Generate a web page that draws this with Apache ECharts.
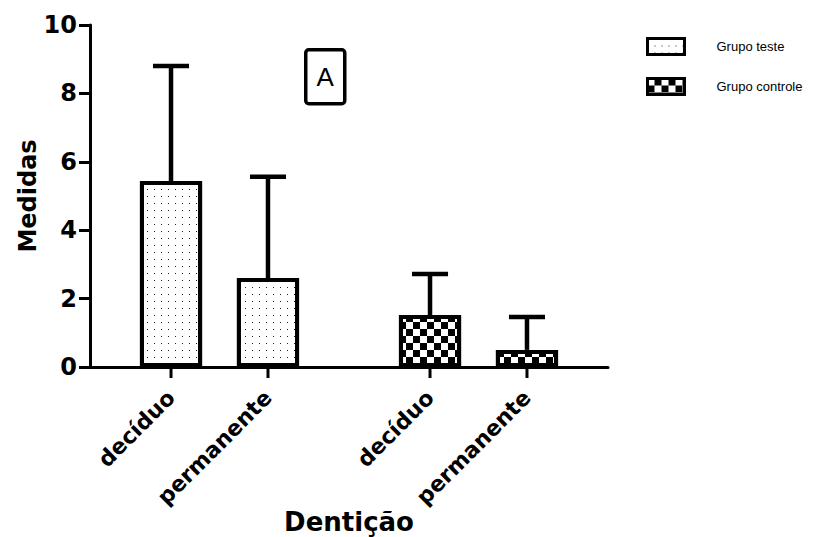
<!DOCTYPE html>
<html><head><meta charset="utf-8">
<script src="https://cdn.jsdelivr.net/npm/echarts@6/dist/echarts.min.js"></script>
<style>html,body{margin:0;padding:0;background:#fff}#c{width:825px;height:537px}</style>
</head><body><div id="c"></div>
<script>
// ---- data ----
const groups = ['Grupo teste', 'Grupo controle'];
const dentitions = ['decíduo', 'permanente'];
const meanTeste = [5.44, 2.60];      // decíduo, permanente
const meanControle = [1.52, 0.50];
const upperTeste = [8.80, 5.56];     // mean + SD
const upperControle = [2.72, 1.46];
const yTicks = [0, 2, 4, 6, 8, 10];
const xTitle = 'Dentição';
const yTitle = 'Medidas';
const panelTag = 'A';

// ---- styling ----
const BAR_W = 0.24, BAR_GAP = 0.56;
const boldFont = 'DejaVu Sans';
const dotDecal = { symbol: 'rect', symbolSize: 1, color: '#222', dashArrayX: [1, 6], dashArrayY: [1, 6], rotation: 0 };
const checkerDecal = { symbol: 'rect', symbolSize: 1, color: '#000', dashArrayX: [[7, 7], [0, 7, 7, 0]], dashArrayY: [7, 0], rotation: 0 };
const decals = [dotDecal, checkerDecal];
const means = [meanTeste, meanControle];
const uppers = [upperTeste, upperControle];

const series = [];
groups.forEach((g, gi) => {
  dentitions.forEach((d, di) => {
    series.push({
      type: 'bar',
      name: g,
      stack: d,
      barWidth: (BAR_W * 100) + '%',
      barGap: (BAR_GAP * 100) + '%',
      data: groups.map((_, k) => k === gi ? means[gi][di] : '-'),
      itemStyle: { color: '#fff', borderColor: '#000', borderWidth: 4, decal: decals[gi] },
      label: {
        show: true, position: 'bottom', distance: 27, rotate: 45,
        align: 'right', verticalAlign: 'middle',
        formatter: () => d,
        fontFamily: boldFont, fontWeight: 'bold', fontSize: 22, color: '#000'
      },
      emphasis: { disabled: true },
      animation: false
    });
  });
});

const errData = [];
groups.forEach((g, gi) => dentitions.forEach((d, di) => errData.push([gi, means[gi][di], uppers[gi][di], di])));

series.push({
  type: 'custom',
  name: 'SD',
  data: errData,
  encode: { x: 0, y: [1, 2] },
  z: 5,
  animation: false,
  renderItem: function (params, api) {
    const gi = api.value(0), mean = api.value(1), up = api.value(2), di = api.value(3);
    const band = api.size([1, 0])[0];
    const bw = band * BAR_W, gap = bw * BAR_GAP;
    const cx = api.coord([gi, 0])[0] + (di - 0.5) * (bw + gap);
    const y0 = api.coord([gi, 0])[1];
    const yTop = api.coord([gi, mean])[1];
    const yUp = api.coord([gi, up])[1];
    const cap = bw * 0.58;
    const st = { stroke: '#000', lineWidth: 4.5 };
    return {
      type: 'group', children: [
        { type: 'line', shape: { x1: cx, y1: yTop, x2: cx, y2: yUp }, style: st },
        { type: 'line', shape: { x1: cx - cap / 2, y1: yUp, x2: cx + cap / 2, y2: yUp }, style: st },
        { type: 'line', shape: { x1: cx, y1: y0, x2: cx, y2: y0 + 11 }, style: { stroke: '#000', lineWidth: 3 } }
      ]
    };
  }
});

const chart = echarts.init(document.getElementById('c'), null, { renderer: 'svg' });
chart.setOption({
  backgroundColor: '#fff',
  animation: false,
  grid: { left: 90, right: 217, top: 25, bottom: 170, containLabel: false, outerBoundsMode: 'none' },
  legend: {
    data: groups,
    orient: 'vertical',
    left: 641, top: 32,
    icon: 'rect',
    itemWidth: 37, itemHeight: 16,
    itemGap: 21,
    itemStyle: { borderWidth: 3, borderColor: '#000' },
    textStyle: { fontFamily: 'Liberation Sans', fontSize: 13, color: '#000', padding: [0, 0, 0, 27] },
    selectedMode: false
  },
  xAxis: {
    type: 'category',
    data: groups,
    axisLine: { lineStyle: { color: '#000', width: 3 } },
    axisTick: { show: false },
    axisLabel: { show: false },
    name: xTitle,
    nameLocation: 'middle',
    nameGap: 142,
    nameMoveOverlap: false,
    nameTextStyle: { fontFamily: boldFont, fontWeight: 'bold', fontSize: 26, color: '#000' }
  },
  yAxis: {
    type: 'value',
    min: yTicks[0], max: yTicks[yTicks.length - 1], interval: yTicks[1] - yTicks[0],
    axisLine: { show: true, lineStyle: { color: '#000', width: 3 } },
    axisTick: { show: true, length: 11, lineStyle: { color: '#000', width: 3 } },
    axisLabel: { fontFamily: boldFont, fontWeight: 'bold', fontSize: 24, color: '#000', margin: 13 },
    splitLine: { show: false },
    name: yTitle,
    nameLocation: 'middle',
    nameGap: 50,
    nameMoveOverlap: false,
    nameTextStyle: { fontFamily: boldFont, fontWeight: 'bold', fontSize: 24, color: '#000' }
  },
  graphic: [{
    type: 'group', left: 304, top: 48,
    children: [
      { type: 'rect', shape: { x: 0, y: 0, width: 39, height: 54, r: 3 }, style: { fill: '#fff', stroke: '#000', lineWidth: 3.5 } },
      { type: 'text', x: 19.5, y: 27, style: { text: panelTag, font: '26px "Liberation Sans"', fill: '#000', align: 'center', verticalAlign: 'middle' } }
    ]
  }],
  series: series
});
</script>
</body></html>
